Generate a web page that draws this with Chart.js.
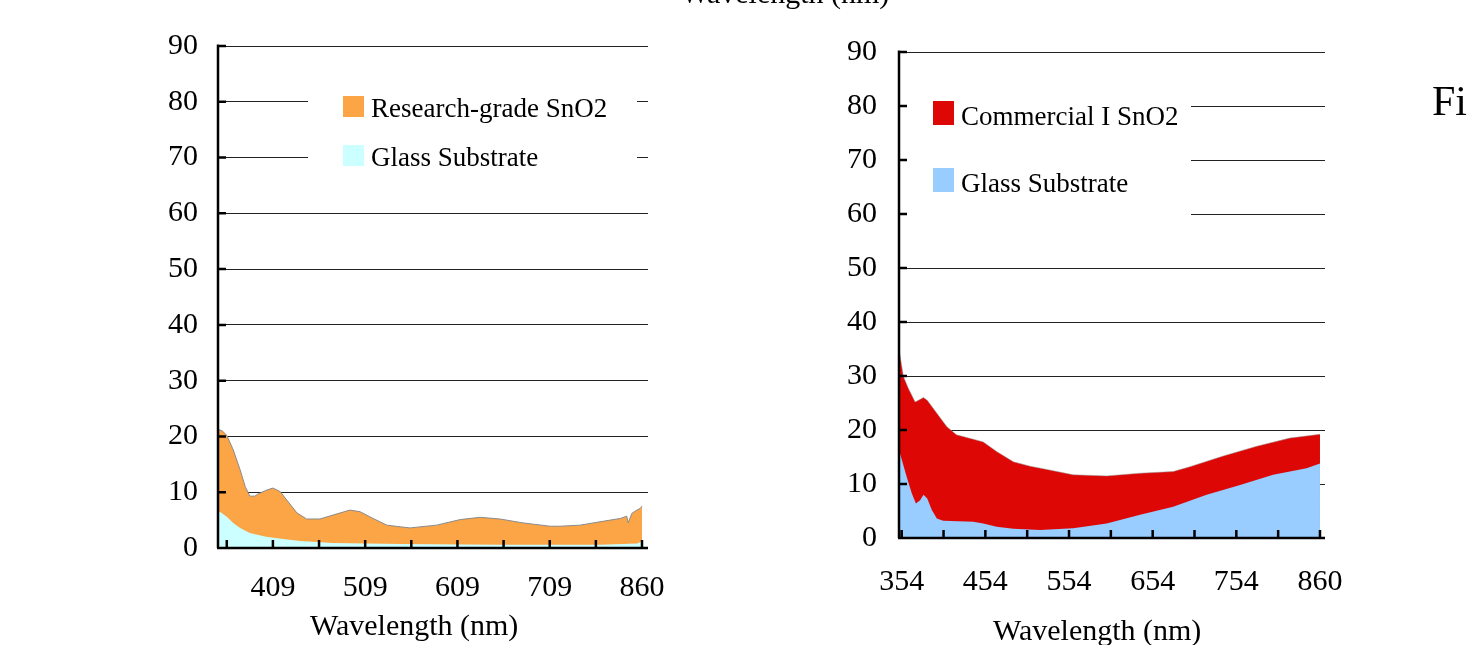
<!DOCTYPE html>
<html>
<head>
<meta charset="utf-8">
<script src="https://cdn.jsdelivr.net/npm/chart.js@4.4.0/dist/chart.umd.min.js"></script>
<style>
body { margin:0; width:1467px; height:645px; overflow:hidden; background:#fff; position:relative; font-family:"Liberation Serif", "Times New Roman", serif; }
.tela { position:absolute; left:0; top:0; width:1467px; height:645px; }
.testo { position:absolute; white-space:nowrap; color:#000; font-size:30px; line-height:30px; }
</style>
</head>
<body>
<div class="tela"><canvas id="graficoSx"></canvas></div>
<div class="tela"><canvas id="graficoDx"></canvas></div>
<div class="testo" style="left:681px;top:-22px">Wavelength (nm)</div>
<div class="testo" style="left:310px;top:610px">Wavelength (nm)</div>
<div class="testo" style="left:993px;top:615px">Wavelength (nm)</div>
<div class="testo" style="left:1432px;top:80px;font-size:42px;line-height:42px">Fi</div>

<script>
// grafico sinistro: posizioni in unita' di tacca dell'asse x
var sxTacche = [0, 1, 2, 3, 4, 5, 6, 7, 8, 9];
var sxEtichette = ['', '409', '', '509', '', '609', '', '709', '', '860'];

var sxPosResearch = [-0.19, -0.1, 0, 0.14, 0.29, 0.40, 0.50, 0.61, 0.68, 0.87, 1.00, 1.16, 1.30, 1.52, 1.73, 2.02, 2.30, 2.67, 2.89, 3.17, 3.47, 3.76, 3.97, 4.55, 5.06, 5.49, 5.92, 6.42, 7.01, 7.22, 7.66, 8.09, 8.31, 8.53, 8.67, 8.70, 8.78, 8.89, 8.96, 9.0];
var sxResearch = [21.3, 21.0, 20.2, 17.6, 14.0, 11.0, 9.3, 9.3, 9.7, 10.4, 10.75, 10.1, 8.6, 6.3, 5.2, 5.2, 5.9, 6.8, 6.5, 5.3, 4.1, 3.8, 3.6, 4.1, 5.1, 5.5, 5.2, 4.5, 3.9, 3.9, 4.1, 4.7, 5.0, 5.3, 5.7, 4.5, 6.2, 6.8, 7.1, 7.5];

var sxPosVetro = [-0.19, -0.15, 0, 0.14, 0.29, 0.50, 0.85, 1.22, 1.59, 2.30, 3.76, 5.92, 8.09, 8.9, 9.0];
var sxVetro = [6.3, 6.5, 5.6, 4.5, 3.6, 2.7, 2.0, 1.6, 1.25, 0.9, 0.7, 0.6, 0.6, 0.8, 1.2];

// grafico destro
var dxTacche = [0, 1, 2, 3, 4, 5, 6, 7, 8, 9, 10];
var dxEtichette = ['354', '', '454', '', '554', '', '654', '', '754', '', '860'];

var dxPosCommercial = [-0.065, 0.04, 0.16, 0.32, 0.40, 0.52, 0.61, 0.84, 1.08, 1.31, 1.71, 1.95, 2.27, 2.67, 3.07, 3.47, 4.10, 4.90, 5.70, 6.49, 6.89, 7.69, 8.49, 9.28, 10.0];
var dxCommercial = [35.0, 29.9, 27.7, 25.2, 25.5, 26.0, 25.5, 23.1, 20.6, 19.1, 18.3, 17.8, 16.0, 14.1, 13.3, 12.7, 11.7, 11.5, 12.0, 12.3, 13.2, 15.2, 17.0, 18.5, 19.2];

var dxPosVetro = [-0.065, 0.12, 0.24, 0.34, 0.44, 0.52, 0.61, 0.72, 0.84, 0.99, 1.71, 1.95, 2.27, 2.67, 3.31, 4.10, 4.90, 5.70, 6.49, 7.29, 8.09, 8.88, 9.68, 10.0];
var dxVetro = [16.3, 11.3, 8.3, 6.4, 7.0, 8.0, 7.3, 5.2, 3.6, 3.2, 3.0, 2.7, 2.1, 1.7, 1.5, 1.8, 2.7, 4.3, 5.8, 8.0, 9.8, 11.7, 12.9, 13.8];

var yTacche = [0, 10, 20, 30, 40, 50, 60, 70, 80, 90];

Chart.defaults.font.family = '"Liberation Serif", "Times New Roman", serif';
Chart.defaults.color = '#000';

function punti(pos, val){
    var out = [];
    for (var i = 0; i < pos.length; i++){
        out.push({x: pos[i], y: val[i]});
    }
    return out;
}

// assi con tacche interne + legenda con riquadro bianco
var pluginAssi = {
    id: 'assi',
    afterDatasetsDraw: function(chart, args, opt){
        var ctx = chart.ctx;
        var ca = chart.chartArea;
        var sx = chart.scales.x, sy = chart.scales.y;
        var lg = opt.legenda;
        ctx.save();

        ctx.fillStyle = '#fff';
        ctx.fillRect(lg.x, lg.y, lg.w, lg.h);
        ctx.font = '27px "Liberation Serif"';
        ctx.textAlign = 'left';
        ctx.textBaseline = 'alphabetic';
        chart.data.datasets.forEach(function(ds, i){
            var top = lg.riga + i * lg.passo;
            ctx.fillStyle = ds.backgroundColor;
            ctx.fillRect(lg.qx, top, lg.qw, lg.qh);
            ctx.fillStyle = '#000';
            ctx.fillText(ds.label, lg.qx + lg.qw + 7, top + lg.qh);
        });

        ctx.strokeStyle = '#000';
        ctx.lineWidth = 2.5;
        ctx.beginPath();
        ctx.moveTo(ca.left, ca.top - 1.5);
        ctx.lineTo(ca.left, ca.bottom);
        ctx.moveTo(ca.left - 1, ca.bottom);
        ctx.lineTo(ca.right, ca.bottom);
        sy.ticks.forEach(function(t){
            var y = sy.getPixelForValue(t.value);
            ctx.moveTo(ca.left, y);
            ctx.lineTo(ca.left + 8, y);
        });
        sx.ticks.forEach(function(t){
            var x = sx.getPixelForValue(t.value);
            ctx.moveTo(x, ca.bottom);
            ctx.lineTo(x, ca.bottom - 8);
        });
        ctx.stroke();
        ctx.restore();
    }
};

function creaGrafico(idCanvas, d){
    var context = document.getElementById(idCanvas).getContext('2d');
    return new Chart(context, {
        type: 'line',
        data: {
            datasets: [{
                label: d.nome1,
                data: punti(d.pos1, d.val1),
                backgroundColor: d.colore1,
                borderColor: d.bordo1,
                borderWidth: 1,
                fill: 'origin',
                pointRadius: 0,
                order: 1
            }, {
                label: 'Glass Substrate',
                data: punti(d.pos2, d.val2),
                backgroundColor: d.colore2,
                borderWidth: 0,
                fill: 'origin',
                pointRadius: 0,
                order: 0
            }]
        },
        plugins: [pluginAssi],
        options: {
            responsive: true,
            maintainAspectRatio: false,
            animation: false,
            layout: { padding: d.padding },
            plugins: {
                legend: { display: false },
                tooltip: { enabled: false },
                assi: { legenda: d.legenda }
            },
            scales: {
                x: {
                    type: 'linear',
                    min: d.xMin,
                    max: d.xMax,
                    afterBuildTicks: function(s){ s.ticks = d.tacche.map(function(v){ return {value: v}; }); },
                    afterFit: function(s){ s.height = d.altezzaX; },
                    grid: { display: false },
                    border: { display: false },
                    ticks: {
                        autoSkip: false,
                        maxRotation: 0,
                        padding: d.padX,
                        font: { size: 30 },
                        callback: function(v, i){ return d.etichette[i]; }
                    }
                },
                y: {
                    min: 0,
                    max: 90,
                    afterBuildTicks: function(s){ s.ticks = yTacche.map(function(v){ return {value: v}; }); },
                    afterFit: function(s){ s.width = 60; },
                    grid: { color: '#222', lineWidth: 1, drawTicks: false },
                    border: { display: false },
                    ticks: { padding: d.padY, font: { size: 30 } }
                }
            }
        }
    });
}

document.addEventListener('DOMContentLoaded', function(){
    creaGrafico('graficoSx', {
        nome1: 'Research-grade SnO2',
        pos1: sxPosResearch, val1: sxResearch,
        pos2: sxPosVetro, val2: sxVetro,
        colore1: '#FBA546', bordo1: '#8a8a8a', colore2: '#CCFFFF',
        tacche: sxTacche, etichette: sxEtichette,
        xMin: -0.19, xMax: 9.13,
        padding: { left: 158, right: 819, top: 46, bottom: 0 },
        altezzaX: 97, padX: 14, padY: 20,
        legenda: { x: 308, y: 75, w: 329, h: 110, qx: 343, qw: 21, qh: 21, riga: 96, passo: 49 }
    });
    creaGrafico('graficoDx', {
        nome1: 'Commercial I SnO2',
        pos1: dxPosCommercial, val1: dxCommercial,
        pos2: dxPosVetro, val2: dxVetro,
        colore1: '#DD0806', bordo1: 'rgba(150,150,150,0.5)', colore2: '#99CCFF',
        tacche: dxTacche, etichette: dxEtichette,
        xMin: -0.065, xMax: 10.12,
        padding: { left: 839, right: 142, top: 52, bottom: 0 },
        altezzaX: 107, padX: 18, padY: 22,
        legenda: { x: 901, y: 80, w: 290, h: 160, qx: 933, qw: 21, qh: 24, riga: 101, passo: 67 }
    });
});
</script>
</body>
</html>
